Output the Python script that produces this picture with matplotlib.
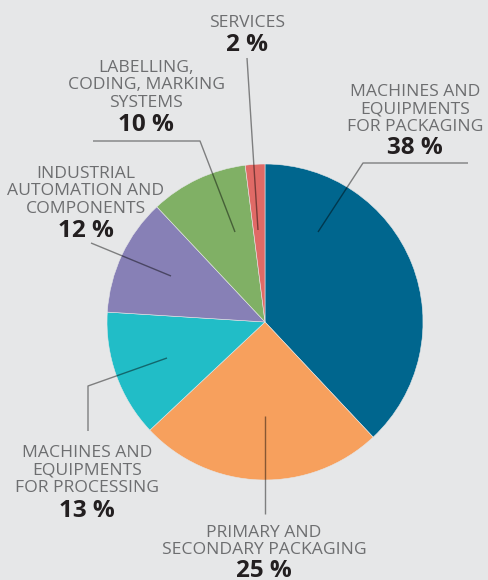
import matplotlib
matplotlib.use("Agg")
import matplotlib.pyplot as plt

W, H = 489, 580

categories = ["MACHINES AND\nEQUIPMENTS\nFOR PACKAGING", "PRIMARY AND\nSECONDARY PACKAGING",
              "MACHINES AND\nEQUIPMENTS\nFOR PROCESSING", "INDUSTRIAL\nAUTOMATION AND\nCOMPONENTS",
              "LABELLING,\nCODING, MARKING\nSYSTEMS", "SERVICES"]
shares = [38, 25, 13, 12, 10, 2]
colors = ["#00668e", "#f7a05d", "#21bdc7", "#8780b6", "#80b065", "#e06a66"]

# label placement in pixels (top-left origin): centre x, first line baseline, pct baseline
label_pos = [(415, 96, 154), (264, 537, 577), (87, 457, 517),
             (86, 178, 237), (146, 72, 131), (247, 27, 51)]
# leader lines (pixel coords)
leaders = [[(468, 163), (363, 163), (318, 232)],
           [(265, 514), (265, 416)],
           [(88, 431), (88, 386), (167, 358)],
           [(91, 243), (171, 276)],
           [(93, 141), (200, 141), (235, 232)],
           [(247, 58), (258, 230)]]
step = 17.3

plt.rcParams['font.family'] = ['Open Sans', 'DejaVu Sans']

fig = plt.figure(figsize=(W / 100, H / 100), dpi=100)
fig.patch.set_facecolor("#e6e7e8")
ax = fig.add_axes([0, 0, 1, 1])

ax.pie(shares, colors=colors, startangle=90, counterclock=False,
       center=(265, H - 322), radius=158, frame=True,
       wedgeprops=dict(edgecolor="#e6e7e8", linewidth=0.4))
ax.set_xlim(0, W)
ax.set_ylim(0, H)
ax.set_aspect("equal")
ax.axis("off")

for pts in leaders:
    xs = [p[0] for p in pts]
    ys = [H - p[1] for p in pts]
    ax.plot(xs, ys, color="black", alpha=0.45, lw=1.0, solid_capstyle="butt")

for cat, val, (cx, ly, py) in zip(categories, shares, label_pos):
    for i, line in enumerate(cat.split("\n")):
        ax.text(cx, H - (ly + i * step), line, ha="center", va="baseline",
                fontsize=12.6, color="#6d6e70")
    ax.text(cx, H - py, f"{val} %", ha="center", va="baseline", fontsize=17.5,
            fontweight="bold", color="#231f20")

fig.savefig("out.png", dpi=100, facecolor=fig.get_facecolor())
